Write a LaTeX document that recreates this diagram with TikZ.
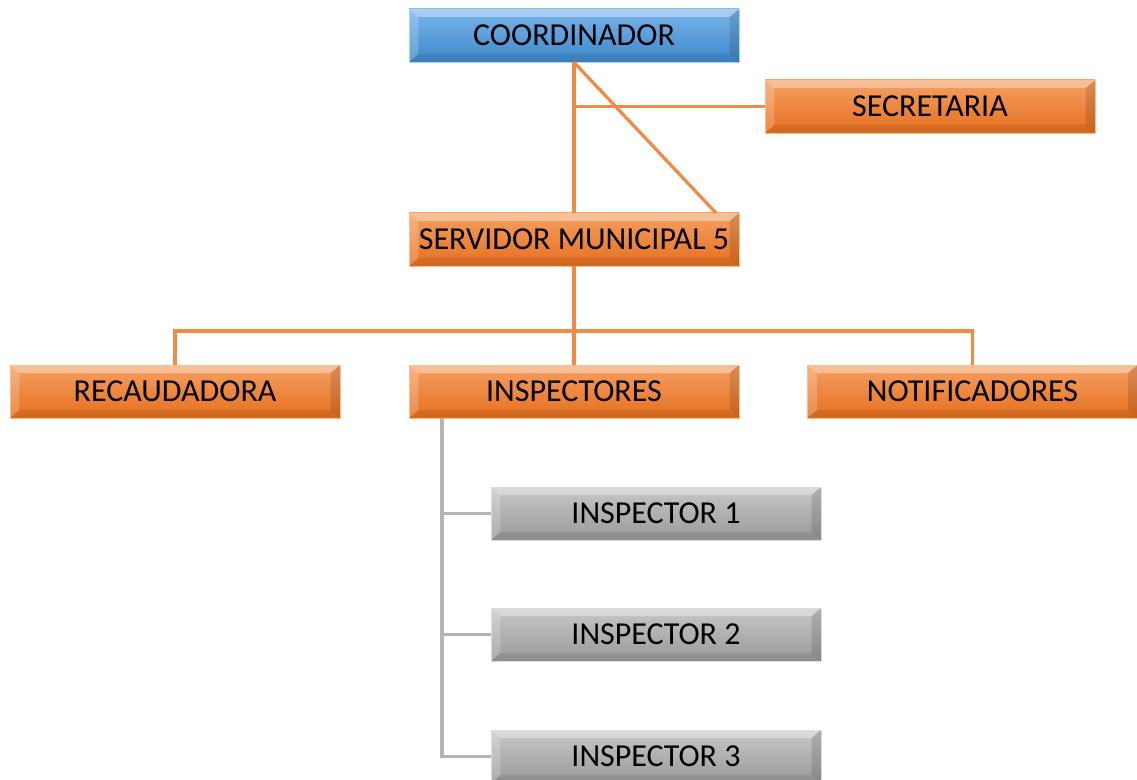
\documentclass[tikz,border=0pt]{standalone}
\usepackage{fontspec}
\setmainfont{Carlito}
\definecolor{orgtop}{HTML}{F6A063}
\definecolor{orgbot}{HTML}{E56F1E}
\definecolor{orgline}{HTML}{F08A45}
\definecolor{blutop}{HTML}{79B6EA}
\definecolor{blubot}{HTML}{3E87CB}
\definecolor{grytop}{HTML}{C8C8C8}
\definecolor{grybot}{HTML}{999999}
\definecolor{gryline}{HTML}{B4B4B4}
\tikzset{
    bevel/.style={path picture={
        \fill[white,opacity=0.35] (path picture bounding box.north west) -- (path picture bounding box.north east)
            -- ([xshift=-7pt,yshift=-6pt]path picture bounding box.north east) -- ([xshift=7pt,yshift=-6pt]path picture bounding box.north west) -- cycle;
        \fill[white,opacity=0.2] (path picture bounding box.north west) -- ([xshift=7pt,yshift=-6pt]path picture bounding box.north west)
            -- ([xshift=7pt,yshift=6pt]path picture bounding box.south west) -- (path picture bounding box.south west) -- cycle;
        \fill[black,opacity=0.12] (path picture bounding box.north east) -- ([xshift=-7pt,yshift=-6pt]path picture bounding box.north east)
            -- ([xshift=-7pt,yshift=6pt]path picture bounding box.south east) -- (path picture bounding box.south east) -- cycle;
        \fill[black,opacity=0.08] (path picture bounding box.south west) -- ([xshift=7pt,yshift=6pt]path picture bounding box.south west)
            -- ([xshift=-7pt,yshift=6pt]path picture bounding box.south east) -- (path picture bounding box.south east) -- cycle;
    }},
    box/.style={rectangle, bevel, minimum width=247.5pt, minimum height=39.75pt, inner sep=0pt,
        font=\fontsize{24}{28}\selectfont, text=black},
    orgbox/.style={box, top color=orgtop, bottom color=orgbot, draw=orgtop!70!white, line width=0.6pt},
    blubox/.style={box, top color=blutop, bottom color=blubot, draw=blutop!60!white, line width=0.6pt},
    grybox/.style={box, top color=grytop, bottom color=grybot, draw=grytop!60!white, line width=0.6pt},
    orgcon/.style={draw=orgline, line width=2.4pt},
    grycon/.style={draw=gryline, line width=2.4pt}
}
\begin{document}
\begin{tikzpicture}[x=0.75pt, y=-0.75pt]
    \useasboundingbox (0,0) rectangle (1137,780);

    \node[blubox] (coord) at (574,35.5) {COORDINADOR};
    \node[orgbox] (secr) at (930,106.5) {SECRETARIA};
    \node[orgbox] (serv) at (574,239.5) {SERVIDOR MUNICIPAL 5};
    \node[orgbox] (recau) at (175,391.5) {RECAUDADORA};
    \node[orgbox] (insp) at (574,391.5) {INSPECTORES};
    \node[orgbox] (notif) at (972.5,391.5) {NOTIFICADORES};
    \node[grybox] (insp1) at (656,513.5) {INSPECTOR 1};
    \node[grybox] (insp2) at (656,634.5) {INSPECTOR 2};
    \node[grybox] (insp3) at (656,756.5) {INSPECTOR 3};

    \coordinate (diag) at (716,213);
    \coordinate (bus) at (574,331);
    \coordinate (gtop) at (442,418);

    \draw[orgcon] (coord.south) -- (serv.north);
    \draw[orgcon] (coord.south) -- (diag);
    \draw[orgcon] (secr.west) -- (secr.west -| coord.south);
    \draw[orgcon] (serv.south) -- (insp.north);
    \draw[orgcon] (recau.north) |- (bus) -| (notif.north);

    \draw[grycon] (gtop) |- (insp3.west);
    \foreach \n in {insp1,insp2} {
        \draw[grycon] (gtop |- \n.west) -- (\n.west);
    }
\end{tikzpicture}
\end{document}
